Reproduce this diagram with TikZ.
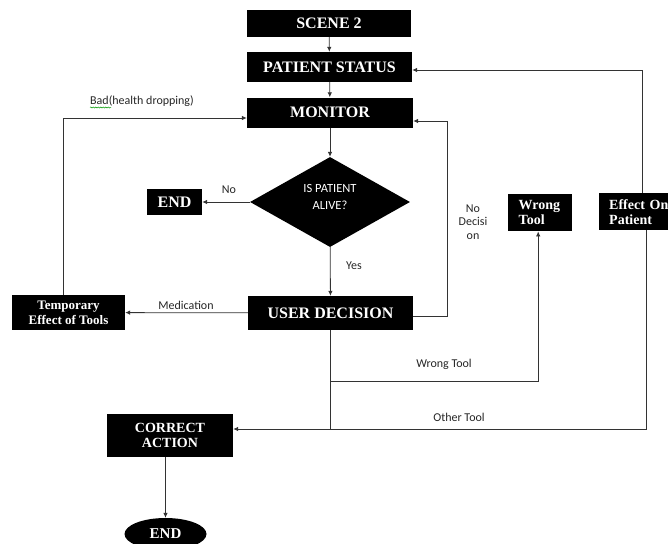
\documentclass[tikz,border=0pt]{standalone}
\usepackage{fontspec}
\setmainfont{Liberation Serif}
\newfontfamily\labfont{Carlito}
\usetikzlibrary{shapes.geometric,arrows.meta,decorations.pathmorphing}

\begin{document}
\begin{tikzpicture}[x=1pt,y=-1pt,
  blk/.style={fill=black,text=white,inner sep=0pt,align=center,
    font=\bfseries\fontsize{16}{18}\selectfont},
  blksmall/.style={blk,font=\bfseries\fontsize{14}{15}\selectfont},
  lab/.style={font=\labfont\fontsize{12}{13.5}\selectfont,text=black!85,inner sep=0pt,align=center},
  conn/.style={draw=black!80,line width=0.8pt},
  arr/.style={conn,-{Latex[length=5pt,width=4.5pt]}}]

\useasboundingbox (0,0) rectangle (668,543);
\clip (0,0) rectangle (668,543);

% main column
\node[blk,minimum width=164pt,minimum height=27pt] (scene) at (329,23.5) {SCENE 2};
\node[blk,minimum width=165pt,minimum height=30pt] (status) at (329.5,67) {PATIENT STATUS};
\node[blk,minimum width=166pt,minimum height=30pt] (monitor) at (330,112.5) {MONITOR};
\node[diamond,aspect=1.8,fill=black,inner sep=0pt,
  minimum width=160pt,minimum height=90pt] (alive) at (330,202) {};
\node[text=white,inner sep=0pt,align=center,
  font=\labfont\fontsize{12.5}{17}\selectfont] (aliveText) at (330,197) {IS PATIENT\\ALIVE?};
\node[blk,minimum width=55pt,minimum height=26pt] (endA) at (174.5,202) {END};
\node[blk,minimum width=165pt,minimum height=34pt] (user) at (330.5,313) {USER DECISION};
\node[blk,font=\bfseries\fontsize{13}{15}\selectfont,minimum width=113pt,minimum height=35pt]
  (temp) at (68.5,312.5) {Temporary\\Effect of Tools};

% right-hand boxes
\node[blksmall,anchor=north west,align=left,text width=43pt,inner xsep=10.5pt,
  minimum height=37pt] (wrong) at (508,194) {Wrong\\Tool};
\node[blksmall,anchor=north west,align=left,text width=70pt,inner xsep=10pt,
  minimum height=37pt] (effect) at (599,193) {Effect On\\Patient};

% bottom
\node[blksmall,minimum width=126pt,minimum height=43pt] (correct) at (170,435.5) {CORRECT\\ACTION};
\node[ellipse,fill=black,text=white,inner sep=0pt,minimum width=82pt,minimum height=32pt,
  font=\bfseries\fontsize{15}{17}\selectfont] (fin) at (165.5,534) {END};

% helper coordinates
\coordinate (ndTop) at (447,121);
\coordinate (wt) at (330.5,381);
\coordinate (other) at ([yshift=6.5pt]correct.east);

% connectors
\draw[arr] (scene) -- (status);
\draw[arr] (status) -- (monitor);
\draw[arr] (monitor) -- (alive);
\draw[arr] (alive) -- (endA);
\draw[arr] (alive) -- (user);
\draw[arr] (user) -- (temp);
\draw[arr] ([xshift=-5.5pt]temp.north) |- ([yshift=-5.5pt]monitor.west);
\draw[arr] ([yshift=-3pt]user.east) -| (ndTop) -- ([yshift=-8.5pt]monitor.east);
\draw[conn] (user.south) -- (user.south |- other);
\draw[arr] (wt) -| ([xshift=-2pt]wrong.south);
\draw[arr] ([xshift=-2pt]effect.north) |- ([yshift=-3pt]status.east);
\draw[arr] ([xshift=2pt]effect.south) |- (other);
\draw[arr] ([xshift=-4.5pt]correct.south) -- (fin);

% connector labels
\node[lab] (lNo) at (229,190) {No};
\node[lab] (lYes) at (354,266) {Yes};
\node[lab] (lMed) at (186,305) {Medication};
\node[lab] (lBad) at (142,101) {Bad(health dropping)};
\draw[green!60!black,line width=0.5pt,decorate,decoration={snake,amplitude=0.6pt,segment length=2.5pt}]
  (90,107.5) -- (111,107.5);
\node[lab] (lNoDec) at (473,222) {No\\Decisi\\on};
\node[lab] (lWrong) at (444,364) {Wrong Tool};
\node[lab] (lOther) at (459,417) {Other Tool};

\end{tikzpicture}
\end{document}
